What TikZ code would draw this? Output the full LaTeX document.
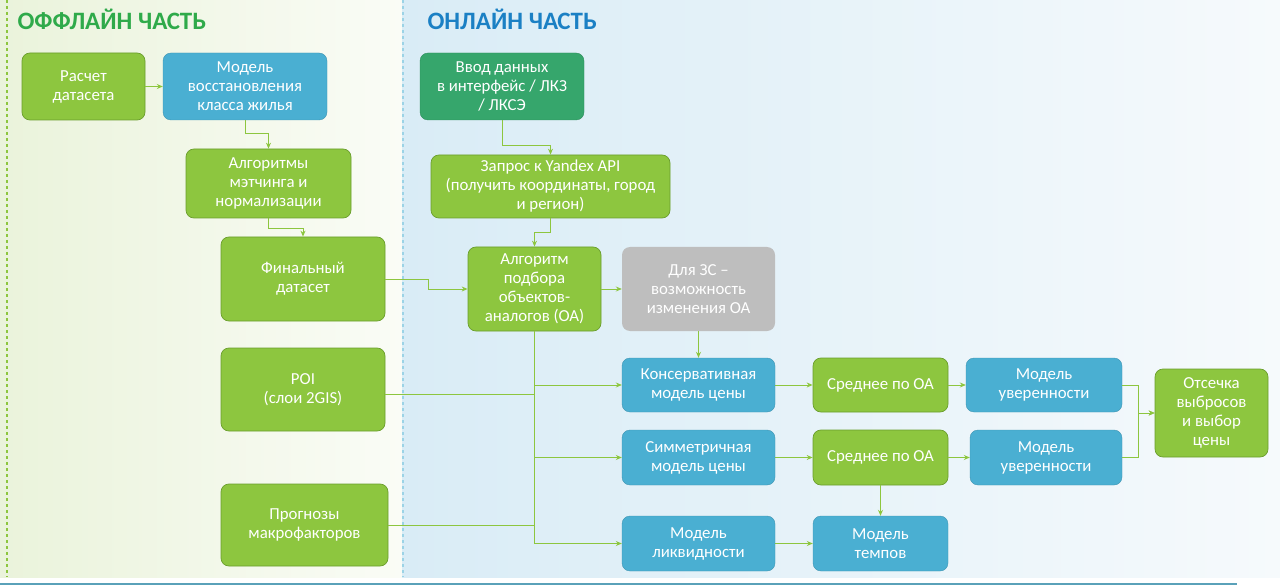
\documentclass[tikz,border=0pt]{standalone}
\usepackage{fontspec}
\setmainfont{Carlito}
\usepackage{xcolor}
\usepackage{tikz}
\usetikzlibrary{arrows.meta,calc,positioning,backgrounds}

\definecolor{lgreen}{HTML}{8DC63F}
\definecolor{dgreen}{HTML}{6A9E2C}
\definecolor{lblue}{HTML}{4AAFD2}
\definecolor{teal}{HTML}{36A66C}
\definecolor{lgray}{HTML}{BEBEBE}
\definecolor{offtitle}{HTML}{2FAA4A}
\definecolor{ontitle}{HTML}{1B80C4}
\definecolor{offleft}{HTML}{EAF3DB}
\definecolor{offright}{HTML}{FAFCF6}
\definecolor{onleft}{HTML}{D9ECF6}
\definecolor{onright}{HTML}{F6FAFC}

\tikzset{
  box/.style={rounded corners=8pt, align=center, text=white, inner sep=2pt,
              font=\fontsize{16.8}{19}\selectfont},
  gbox/.style={box, fill=lgreen, draw=dgreen, line width=0.7pt},
  bbox/.style={box, fill=lblue, draw=lblue!85!black, line width=0.4pt},
  tbox/.style={box, fill=teal, draw=teal!85!black, line width=0.4pt},
  xbox/.style={box, fill=lgray},
  conn/.style={draw=lgreen, line width=0.9pt, -{Stealth[length=6pt,width=5pt]}},
  link/.style={draw=lgreen, line width=0.9pt},
  title/.style={anchor=west, font=\fontsize{25}{28}\selectfont\bfseries},
}

\begin{document}
\begin{tikzpicture}[x=1pt,y=-1pt]
  \path[use as bounding box] (0,0) rectangle (1280,588);

  % background parts
  \shade[left color=offleft, right color=offright] (0,0) rectangle (402,577);
  \shade[left color=onleft, right color=onright] (402,0) rectangle (1280,577);
  \draw[lgreen, dashed, line width=1.2pt] (7,0) -- (7,577);
  \draw[lblue!55, dashed, line width=1.2pt] (403,0) -- (403,577);
  \draw[lblue!70!gray, line width=1.6pt] (0,584) -- (1237,584);

  \node[title, text=offtitle] (offline) at (14,19) {ОФФЛАЙН ЧАСТЬ};
  \node[title, text=ontitle] (online) at (424,19) {ОНЛАЙН ЧАСТЬ};

  % offline
  \node[gbox, minimum width=123pt, minimum height=67pt] (rasch) at (83.5,86.5) {Расчет\\датасета};
  \node[bbox, minimum width=164pt, minimum height=67pt] (vosst) at (245,86.5) {Модель\\восстановления\\класса жилья};
  \node[gbox, minimum width=165pt, minimum height=69pt] (match) at (268.5,183.5) {Алгоритмы\\мэтчинга и\\нормализации};
  \node[gbox, minimum width=164pt, minimum height=84pt] (final) at (303,279) {Финальный\\датасет};
  \node[gbox, minimum width=164pt, minimum height=83pt] (poi) at (303,389.5) {POI\\(слои 2GIS)};
  \node[gbox, minimum width=167pt, minimum height=82pt] (prog) at (304.5,525) {Прогнозы\\макрофакторов};

  % online
  \node[tbox, minimum width=164pt, minimum height=67pt] (vvod) at (502,86.5) {Ввод данных\\в интерфейс / ЛКЗ\\/ ЛКСЭ};
  \node[gbox, minimum width=239pt, minimum height=63pt] (yandex) at (550.5,186.5) {Запрос к Yandex API\\(получить координаты, город\\и регион)};
  \node[gbox, minimum width=133pt, minimum height=84pt] (algo) at (534.5,289) {Алгоритм\\подбора\\объектов-\\аналогов (ОА)};
  \node[xbox, minimum width=153pt, minimum height=84pt] (zs) at (698.5,289) {Для ЗС –\\возможность\\изменения ОА};

  \node[bbox, minimum width=153pt, minimum height=54pt] (kons) at (698.5,385) {Консервативная\\модель цены};
  \node[gbox, minimum width=135pt, minimum height=54pt] (sr1) at (880.5,385) {Среднее по ОА};
  \node[bbox, minimum width=156pt, minimum height=54pt] (uv1) at (1044,385) {Модель\\уверенности};

  \node[bbox, minimum width=153pt, minimum height=55pt] (sym) at (698.5,457.5) {Симметричная\\модель цены};
  \node[gbox, minimum width=135pt, minimum height=55pt] (sr2) at (880.5,457.5) {Среднее по ОА};
  \node[bbox, minimum width=152pt, minimum height=55pt] (uv2) at (1046,457.5) {Модель\\уверенности};

  \node[bbox, minimum width=153pt, minimum height=55pt] (likv) at (698.5,543.5) {Модель\\ликвидности};
  \node[bbox, minimum width=135pt, minimum height=55pt] (temp) at (880.5,543.5) {Модель\\темпов};

  \node[gbox, minimum width=113pt, minimum height=88pt] (ots) at (1211.5,413) {Отсечка\\выбросов\\и выбор\\цены};

  % connectors
  \draw[conn] (rasch.east) -- (vosst.west);
  \draw[conn] (vosst.south) -- ++(0,13) -| (match.north);
  \draw[conn] (match.south) -- ++(0,10) -| (final.north);
  \draw[conn] (final.east) -- ++(43,0) |- (algo.west);
  \draw[conn] (vvod.south) -- ++(0,25) -| (yandex.north);
  \draw[conn] (yandex.south) -- ++(0,14) -| (algo.north);
  \draw[conn] (algo.east) -- (zs.west);
  \draw[conn] (zs.south) -- (kons.north);

  \draw[conn] (algo.south) |- (likv.west);
  \draw[conn] (algo.south |- kons.west) -- (kons.west);
  \draw[conn] (algo.south |- sym.west) -- (sym.west);
  \draw[link] ([yshift=-5pt]poi.east) -- ([yshift=-5pt]poi.east -| algo.south);
  \draw[link] (prog.east) -- (prog.east -| algo.south);

  \draw[conn] (kons) -- (sr1);
  \draw[conn] (sr1) -- (uv1);
  \draw[conn] (sym) -- (sr2);
  \draw[conn] (sr2) -- (uv2);
  \draw[conn] (sr2) -- (temp);
  \draw[conn] (likv) -- (temp);
  \draw[conn] (uv1.east) -- ++(16,0) |- (ots.west);
  \draw[conn] (uv2.east) -- ++(16,0) |- (ots.west);
\end{tikzpicture}
\end{document}
